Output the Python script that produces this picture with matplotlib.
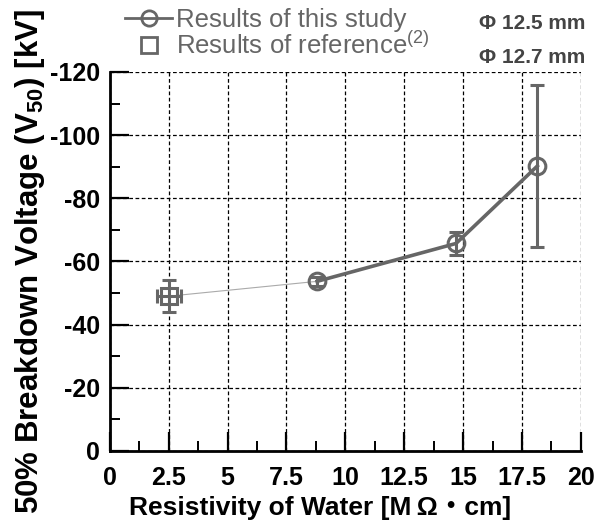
import matplotlib
matplotlib.use("Agg")
import matplotlib.pyplot as plt
from matplotlib.lines import Line2D
from matplotlib.ticker import MultipleLocator, FixedFormatter, FixedLocator

plt.rcParams["font.family"] = ["Liberation Sans", "Noto Sans CJK JP", "DejaVu Sans"]
plt.rcParams["mathtext.fontset"] = "custom"
plt.rcParams["mathtext.rm"] = "Liberation Sans"
plt.rcParams["mathtext.bf"] = "Liberation Sans:bold"

# data (kV, negative polarity)
study_x = [8.8, 14.7, 18.15]
study_y = [-53.7, -65.7, -90.2]
study_err = [1.5, 3.5, 25.7]

ref_x = [2.5]
ref_y = [-49.0]
ref_yerr = [5.0]
ref_xerr = [0.5]

x_ticks = [0, 2.5, 5, 7.5, 10, 12.5, 15, 17.5, 20]
x_labels = ["0", "2.5", "5", "7.5", "10", "12.5", "15", "17.5", "20"]
y_ticks = [0, -20, -40, -60, -80, -100, -120]
y_labels = ["0", "-20", "-40", "-60", "-80", "-100", "-120"]

gray = "#666666"

fig = plt.figure(figsize=(5.97, 5.25), dpi=100)
ax = fig.add_axes([0.184, 0.141, 0.789, 0.722])

# thin connector between reference point and first study point
ax.plot([ref_x[0], study_x[0]], [ref_y[0], study_y[0]], color="#aaaaaa", linewidth=0.8, zorder=2)

ax.errorbar(study_x, study_y, yerr=study_err, color=gray, linewidth=2.6,
            marker="o", markersize=12, markerfacecolor="none", markeredgewidth=2.2,
            capsize=5, capthick=2.2, elinewidth=2.2, zorder=3)
ax.errorbar(ref_x, ref_y, yerr=ref_yerr, xerr=ref_xerr, color=gray, linestyle="none",
            marker="s", markersize=11, markerfacecolor="none", markeredgewidth=2.2,
            capsize=5, capthick=2.2, elinewidth=2.2, zorder=3)

ax.set_xlim(0, 20)
ax.set_ylim(0, -120)
ax.xaxis.set_major_locator(FixedLocator(x_ticks))
ax.xaxis.set_major_formatter(FixedFormatter(x_labels))
ax.yaxis.set_major_locator(FixedLocator(y_ticks))
ax.yaxis.set_major_formatter(FixedFormatter(y_labels))
ax.xaxis.set_minor_locator(MultipleLocator(1.25))
ax.yaxis.set_minor_locator(MultipleLocator(10))

ax.tick_params(which="major", direction="in", length=14, width=1.6, labelsize=18)
ax.tick_params(axis="x", which="major", pad=11)
ax.tick_params(axis="y", which="major", pad=7)
ax.tick_params(which="minor", direction="in", length=7, width=1.4)
for lbl in ax.get_xticklabels() + ax.get_yticklabels():
    lbl.set_fontweight("bold")

ax.grid(True, which="major", color="black", linestyle=(0, (3, 2)), linewidth=0.9)
ax.spines["top"].set_visible(False)
ax.spines["right"].set_visible(False)
ax.spines["left"].set_linewidth(2)
ax.spines["bottom"].set_linewidth(2)

ax.set_xlabel("Resistivity of Water [M\u2009\u03a9\u30fbcm]", fontsize=19, fontweight="bold")
ax.xaxis.set_label_coords(0.446, -0.118, transform=ax.transAxes)
ax.xaxis.label.set_va("top")
ax.set_ylabel(r"50% Breakdown Voltage (V$_{\mathbf{50}}$) [kV]", fontsize=22.5, fontweight="bold", labelpad=2)

# legend: one row per entry so the rows can sit tight like the original
entries = [
    (Line2D([], [], color=gray, linewidth=2, marker="o", markersize=11,
            markerfacecolor="none", markeredgewidth=2), "Results of this study", 0.962),
    (Line2D([], [], color=gray, linestyle="none", marker="s", markersize=11,
            markerfacecolor="none", markeredgewidth=2), r"Results of reference$^{(2)}$", 0.914),
]
for handle, label, y in entries:
    leg = fig.legend([handle], [label], loc="center left", bbox_to_anchor=(0.209, y),
                     frameon=False, borderpad=0, borderaxespad=0,
                     fontsize=18.5, handlelength=1.85, handletextpad=0.15)
    for t in leg.get_texts():
        t.set_color(gray)

fig.text(0.98, 0.956, "Φ 12.5 mm", ha="right", va="center", fontsize=15, fontweight="bold", color="#444444")
fig.text(0.98, 0.890, "Φ 12.7 mm", ha="right", va="center", fontsize=15, fontweight="bold", color="#444444")

fig.savefig("out.png", dpi=100)
